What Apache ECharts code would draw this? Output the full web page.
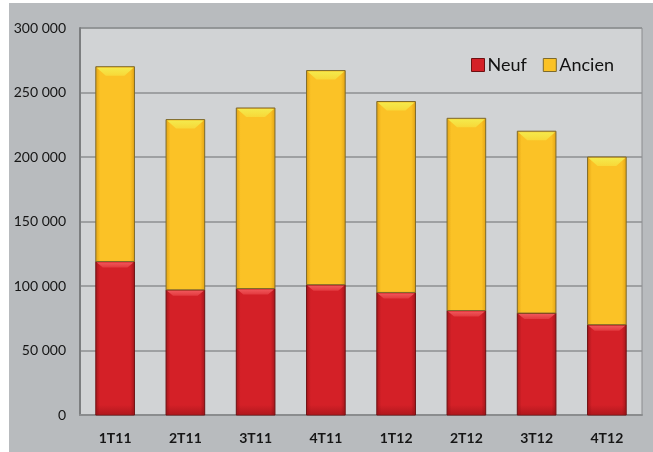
<!DOCTYPE html>
<html>
<head>
<meta charset="utf-8">
<script src="https://cdn.jsdelivr.net/npm/echarts@6/dist/echarts.min.js"></script>
<style>
  html, body { margin: 0; padding: 0; background: #ffffff; }
  #chart { width: 653px; height: 452px; }
</style>
</head>
<body>
<div id="chart"></div>
<script>
// Quarterly sales: new vs. existing homes
const categories = ['1T11', '2T11', '3T11', '4T11', '1T12', '2T12', '3T12', '4T12'];
const neuf = [119000, 97000, 98000, 101000, 95000, 81000, 79000, 70000];
const ancien = [151000, 132000, 140000, 166000, 148000, 149000, 141000, 130000];
const yTicks = [0, 50000, 100000, 150000, 200000, 250000, 300000];

const FONT = 'Lato, "Open Sans", sans-serif';

const palette = {
  Neuf: { base: '#d42027', edge: '#a3161b', bevel: '#f0565a', bevelEnd: '#e2393e', border: '#6e1012', bevelSize: 6 },
  Ancien: { base: '#fbc226', edge: '#e2a212', bevel: '#f4ea4c', bevelEnd: '#f8d838', border: '#7d6a2c', bevelSize: 9 }
};

function fmt(v) {
  return String(v).replace(/\B(?=(\d{3})+(?!\d))/g, ' ');
}

// Beveled bar segment drawn from the axis scales
function makeRender(name) {
  const c = palette[name];
  return function (params, api) {
    const idx = api.value(0);
    const start = api.value(1);
    const end = api.value(2);
    const pTop = api.coord([idx, end]);
    const pBot = api.coord([idx, start]);
    const w = api.size([1, 0])[0] * 0.55;
    const x0 = pTop[0] - w / 2;
    const x1 = pTop[0] + w / 2;
    const yT = pTop[1];
    const yB = pBot[1];
    const h = yB - yT;
    const b = Math.min(c.bevelSize, h / 3);
    const bodyFill = new echarts.graphic.LinearGradient(0, 0, 1, 0, [
      { offset: 0, color: c.edge },
      { offset: 0.12, color: c.base },
      { offset: 0.88, color: c.base },
      { offset: 1, color: c.edge }
    ]);
    const children = [
      {
        type: 'rect',
        shape: { x: x0, y: yT, width: w, height: h },
        style: { fill: bodyFill, stroke: c.border, lineWidth: 1 },
        z2: 1
      },
      {
        type: 'polygon',
        shape: { points: [[x0 + 1, yT + 1], [x1 - 1, yT + 1], [x1 - 1 - b, yT + b], [x0 + 1 + b, yT + b]] },
        style: {
          fill: new echarts.graphic.LinearGradient(0, 0, 0, 1, [
            { offset: 0, color: c.bevel },
            { offset: 1, color: c.bevelEnd }
          ])
        },
        z2: 2
      }
    ];
    if (name === 'Neuf') {
      children.push({
        type: 'rect',
        shape: { x: x0 + 1, y: yB - 10, width: w - 2, height: 9 },
        style: {
          fill: new echarts.graphic.LinearGradient(0, 0, 0, 1, [
            { offset: 0, color: 'rgba(120,10,14,0)' },
            { offset: 1, color: 'rgba(120,10,14,0.35)' }
          ])
        },
        z2: 2
      });
    }
    return { type: 'group', children: children };
  };
}

const neufData = categories.map((c, i) => [i, 0, neuf[i]]);
const ancienData = categories.map((c, i) => [i, neuf[i], neuf[i] + ancien[i]]);

const chart = echarts.init(document.getElementById('chart'), null, { renderer: 'canvas' });

chart.setOption({
  animation: false,
  backgroundColor: '#ffffff',
  graphic: [
    {
      type: 'rect',
      left: 9, top: 3,
      shape: { width: 644, height: 449 },
      style: { fill: '#b8bbbe' },
      z: -10
    }
  ],
  grid: {
    left: 80, top: 28, right: 11, bottom: 37,
    show: true,
    backgroundColor: '#d1d3d5',
    borderColor: '#8a8c8e',
    borderWidth: 1
  },
  legend: {
    left: 466, top: 51,
    itemWidth: 13, itemHeight: 13, itemGap: 16,
    icon: 'rect',
    textStyle: { fontFamily: FONT, fontSize: 18, color: '#111111', padding: [0, 0, 0, -2] },
    data: [
      { name: 'Neuf', itemStyle: { color: palette.Neuf.base, borderColor: palette.Neuf.border, borderWidth: 1 } },
      { name: 'Ancien', itemStyle: { color: palette.Ancien.base, borderColor: palette.Ancien.border, borderWidth: 1 } }
    ]
  },
  xAxis: {
    type: 'category',
    data: categories,
    axisTick: { show: false },
    axisLine: { show: true, lineStyle: { color: '#8a8c8e', width: 2 } },
    axisLabel: { fontFamily: FONT, fontWeight: 'bold', fontSize: 14, color: '#151515', margin: 16 }
  },
  yAxis: {
    type: 'value',
    min: 0, max: 300000, interval: 50000,
    axisLine: { show: true, lineStyle: { color: '#7c7e80', width: 2 } },
    axisTick: { show: false },
    splitLine: { lineStyle: { color: '#8d8f91', width: 1.5 } },
    axisLabel: {
      fontFamily: FONT, fontSize: 14, color: '#151515', margin: 14,
      formatter: v => yTicks.includes(v) ? fmt(v) : ''
    }
  },
  series: [
    {
      name: 'Neuf',
      type: 'custom',
      renderItem: makeRender('Neuf'),
      itemStyle: { color: palette.Neuf.base },
      encode: { x: 0, y: [1, 2] },
      data: neufData,
      z: 3
    },
    {
      name: 'Ancien',
      type: 'custom',
      renderItem: makeRender('Ancien'),
      itemStyle: { color: palette.Ancien.base },
      encode: { x: 0, y: [1, 2] },
      data: ancienData,
      z: 3
    }
  ]
});
</script>
</body>
</html>
